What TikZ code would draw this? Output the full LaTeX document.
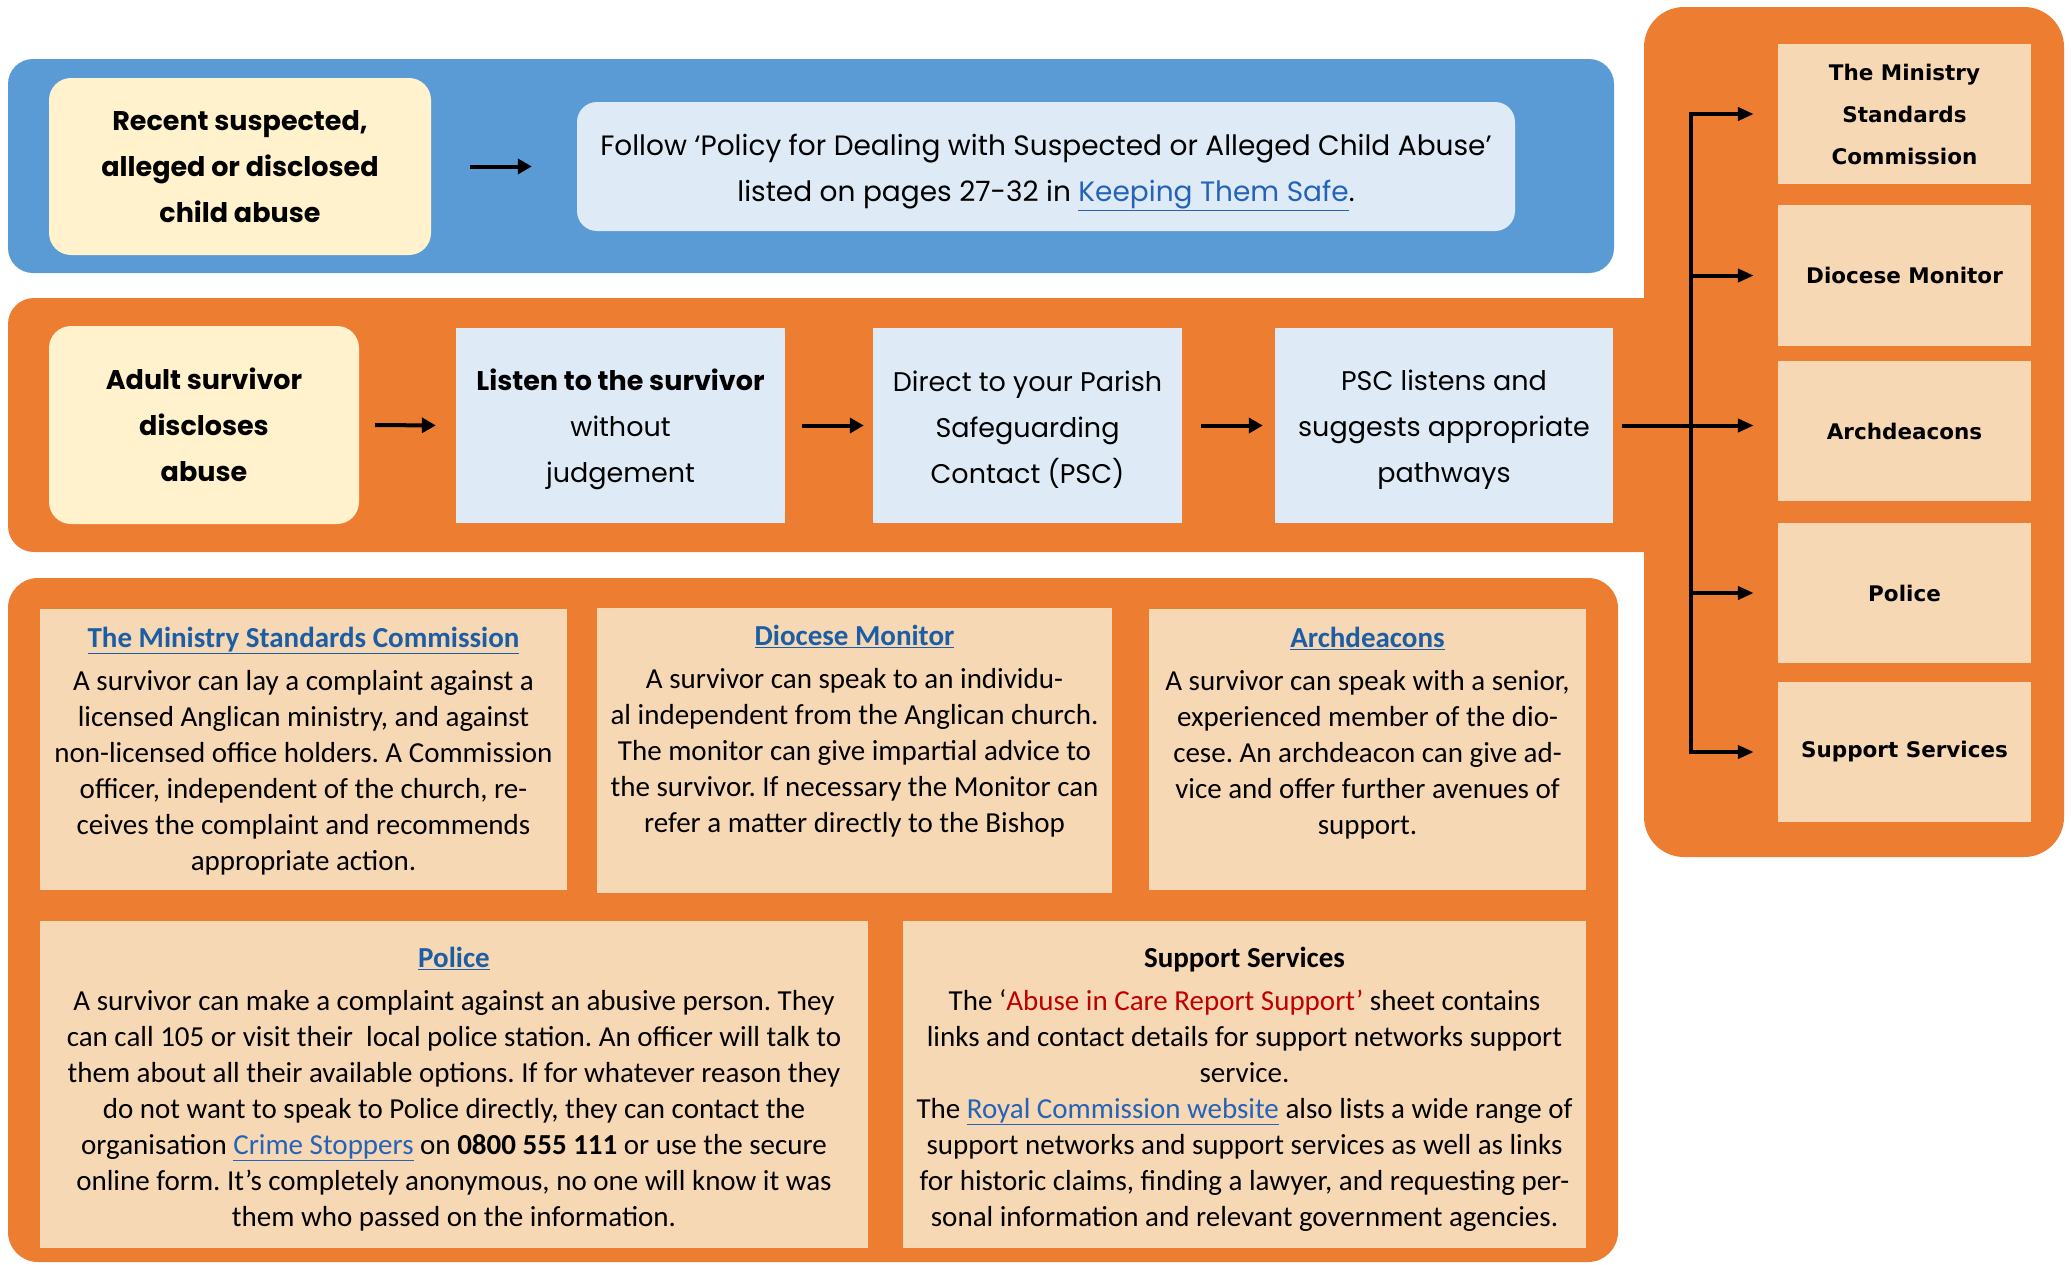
\documentclass[tikz,border=0pt]{standalone}
\usepackage{fontspec}
\setmainfont{Carlito}
\newfontfamily\popfont{Poppins}
\newfontfamily\dvfont{DejaVu Sans}
\usetikzlibrary{arrows.meta}
\definecolor{orng}{HTML}{ED7D31}
\definecolor{blueband}{HTML}{5B9BD5}
\definecolor{yel}{HTML}{FFF2CC}
\definecolor{lblue}{HTML}{DEEBF7}
\definecolor{peach}{HTML}{F7D8B5}
\definecolor{hdblue}{HTML}{1B5EA6}
\definecolor{lnk}{HTML}{2563B8}
\definecolor{redtxt}{HTML}{C00000}
\frenchspacing
\begin{document}
\begin{tikzpicture}[x=1pt,y=-1pt,
  ybox/.style={fill=yel, rounded corners=22pt, inner sep=0pt, align=center,
    font={\popfont\bfseries\fontsize{27}{46}\selectfont}},
  lbbox/.style={fill=lblue, inner sep=0pt, align=center},
  ttext/.style={inner sep=0pt, align=center, font={\popfont\fontsize{27}{46}\selectfont}},
  rbox/.style={fill=peach, inner sep=0pt, align=center, minimum width=253pt, minimum height=140pt,
    font={\dvfont\bfseries\fontsize{21.5}{42}\selectfont}},
  pbox/.style={fill=peach, inner sep=0pt},
  btext/.style={inner sep=0pt, align=center, anchor=north, font={\fontsize{29}{36}\selectfont}},
  bigarr/.style={line width=4pt, -{Triangle[length=14pt,width=15pt]}},
  rarr/.style={line width=4pt, -{Triangle[length=16pt,width=13pt]}}]
\fill[white] (0,0) rectangle (2071,1264);
\useasboundingbox (0,0) rectangle (2071,1264);

% bands
\fill[blueband, rounded corners=25pt] (8,59) rectangle (1614,273);
\fill[orng, rounded corners=40pt] (1644,7) rectangle (2064,857);
\fill[orng, rounded corners=26pt] (8,298) rectangle (1700,552);
\fill[orng, rounded corners=30pt] (8,578) rectangle (1618,1262);

% top row
\node[ybox, minimum width=382pt, minimum height=177pt] (recent) at (240,166.5)
  {Recent suspected,\\alleged or disclosed\\child abuse};
\node[lbbox, rounded corners=20pt, minimum width=938pt, minimum height=129pt] (follow) at (1046,166.5) {};
\node[ttext, yshift=-6pt, font={\popfont\fontsize{28}{46}\selectfont}] (followtxt) at (follow.center)
  {Follow ‘Policy for Dealing with Suspected or Alleged Child Abuse’\\listed on pages 27-32 in \textcolor{lnk}{\underline{Keeping Them Safe}}.};
\draw[bigarr, shorten <=39pt, shorten >=45pt] (recent.east) -- (follow.west);

% second row
\node[ybox, minimum width=310pt, minimum height=198pt] (adult) at (204,425)
  {Adult survivor\\discloses\\abuse};
\node[lbbox, minimum width=329pt, minimum height=195pt] (listen) at (620.5,425.5) {};
\node[lbbox, minimum width=309pt, minimum height=195pt] (direct) at (1027.5,425.5) {};
\node[lbbox, minimum width=338pt, minimum height=195pt] (psc) at (1444,425.5) {};
\node[ttext, yshift=-4pt] (listentxt) at (listen.center)
  {\textbf{Listen to the survivor}\\without\\judgement};
\node[ttext, yshift=-4pt] (directtxt) at (direct.center)
  {Direct to your Parish\\Safeguarding\\Contact (PSC)};
\node[ttext, yshift=-4pt] (psctxt) at (psc.center)
  {PSC listens and\\suggests appropriate\\pathways};
\draw[bigarr, shorten <=16pt, shorten >=20pt] (adult.east) -- (listen.west);
\draw[bigarr, shorten <=17pt, shorten >=9pt] (listen.east) -- (direct.west);
\draw[bigarr, shorten <=19pt, shorten >=12pt] (direct.east) -- (psc.west);

% right panel
\node[rbox] (rb1) at (1904.5,114) {The Ministry\\Standards\\Commission};
\node[rbox, minimum height=141pt] (rb2) at (1904.5,275.5) {Diocese Monitor};
\node[rbox] (rb3) at (1904.5,431) {Archdeacons};
\node[rbox] (rb4) at (1904.5,593) {Police};
\node[rbox] (rb5) at (1904.5,752) {Support Services};
\coordinate (bus) at (1691,425.5);
\draw[rarr, line cap=rect, shorten >=24pt] (bus |- rb5) -- (bus |- rb1) -- (rb1.west);
\draw[rarr, shorten >=24pt] (bus |- rb2) -- (rb2.west);
\draw[rarr, shorten >=24pt] (bus |- rb4) -- (rb4.west);
\draw[rarr, shorten >=24pt] (bus |- rb5) -- (rb5.west);
\draw[rarr, shorten <=9pt, shorten >=24pt] (psc.east) -- (psc.east -| rb3.west);

% bottom boxes
\node[pbox, minimum width=527pt, minimum height=281pt] (mscbox) at (303.5,749.5) {};
\node[pbox, minimum width=515pt, minimum height=285pt] (dmbox) at (854.5,750.5) {};
\node[pbox, minimum width=437pt, minimum height=281pt] (arbox) at (1367.5,749.5) {};
\node[pbox, minimum width=828pt, minimum height=327pt] (polbox) at (454,1084.5) {};
\node[pbox, minimum width=683pt, minimum height=327pt] (supbox) at (1244.5,1084.5) {};

\node[btext] (msctext) at (303.5,627)
  {\textcolor{hdblue}{\bfseries\underline{The Ministry Standards Commission}}\\[7pt]
   A survivor can lay a complaint against a\\
   licensed Anglican ministry, and against\\
   non-licensed office holders. A Commission\\
   officer, independent of the church, re-\\
   ceives the complaint and recommends\\
   appropriate action.};
\node[btext] (dmtext) at (854.5,625)
  {\textcolor{hdblue}{\bfseries\underline{Diocese Monitor}}\\[7pt]
   A survivor can speak to an individu-\\
   al independent from the Anglican church.\\
   The monitor can give impartial advice to\\
   the survivor. If necessary the Monitor can\\
   refer a matter directly to the Bishop};
\node[btext] (artext) at (1367.5,627)
  {\textcolor{hdblue}{\bfseries\underline{Archdeacons}}\\[7pt]
   A survivor can speak with a senior,\\
   experienced member of the dio-\\
   cese. An archdeacon can give ad-\\
   vice and offer further avenues of\\
   support.};
\node[btext] (poltext) at (454,947)
  {\textcolor{hdblue}{\bfseries\underline{Police}}\\[7pt]
   A survivor can make a complaint against an abusive person. They\\
   can call 105 or visit their\ \ local police station. An officer will talk to\\
   them about all their available options. If for whatever reason they\\
   do not want to speak to Police directly, they can contact the\\
   organisation \textcolor{lnk}{\underline{Crime Stoppers}} on \textbf{0800 555 111} or use the secure\\
   online form. It’s completely anonymous, no one will know it was\\
   them who passed on the information.};
\node[btext] (suptext) at (1244.5,947)
  {\textbf{Support Services}\\[7pt]
   The ‘\textcolor{redtxt}{Abuse in Care Report Support’} sheet contains\\
   links and contact details for support networks support\\
   service.\\
   The \textcolor{lnk}{\underline{Royal Commission website}} also lists a wide range of\\
   support networks and support services as well as links\\
   for historic claims, finding a lawyer, and requesting per-\\
   sonal information and relevant government agencies.};
\end{tikzpicture}
\end{document}
